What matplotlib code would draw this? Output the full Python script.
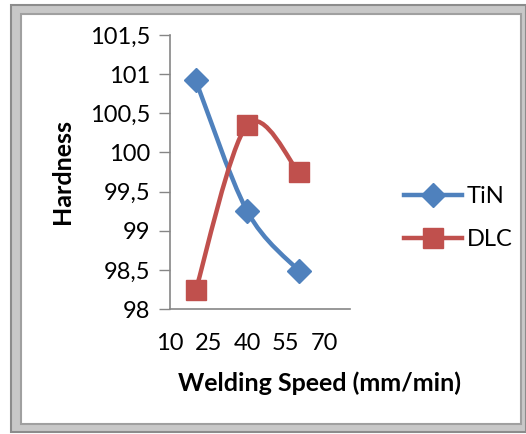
import matplotlib
matplotlib.use('Agg')
import matplotlib.pyplot as plt
from matplotlib.path import Path
from matplotlib.patches import PathPatch, Rectangle
from matplotlib.lines import Line2D
import numpy as np

# data
speed = [20, 40, 60]
tin = [100.92, 99.25, 98.49]
dlc = [98.24, 100.35, 99.75]
x_ticks = [10, 25, 40, 55, 70]
y_ticks = [98, 98.5, 99, 99.5, 100, 100.5, 101, 101.5]

blue = '#4F81BD'
red = '#C0504D'
font = 'Lato'
plt.rcParams['font.family'] = [font, 'DejaVu Sans']


def smooth_path(xs, ys):
    # excel-like smoothed line: bezier through points, tension 1/6
    pts = np.column_stack([xs, ys]).astype(float)
    n = len(pts)
    verts = [pts[0]]
    codes = [Path.MOVETO]
    for i in range(n - 1):
        p0 = pts[i - 1] if i > 0 else pts[i]
        p1 = pts[i]
        p2 = pts[i + 1]
        p3 = pts[i + 2] if i + 2 < n else pts[i + 1]
        c1 = p1 + (p2 - p0) / 6.0
        c2 = p2 - (p3 - p1) / 6.0
        verts += [c1, c2, p2]
        codes += [Path.CURVE4] * 3
    return Path(verts, codes)


fig = plt.figure(figsize=(5.26, 4.34), dpi=100)

# beveled gray frame around the chart
frame_outer = Rectangle((11 / 526, 1 - 432 / 434), 515 / 526, 427 / 434,
                        transform=fig.transFigure, facecolor='#c8c8c8',
                        edgecolor='#8c8c8c', lw=1.5, zorder=-10)
frame_inner = Rectangle((21 / 526, 1 - 424 / 434), 500 / 526, 410 / 434,
                        transform=fig.transFigure, facecolor='white',
                        edgecolor='#a0a0a0', lw=1.5, zorder=-9)
fig.patches.extend([frame_outer, frame_inner])

ax = fig.add_axes([170 / 526, 1 - 309 / 434, 180 / 526, 274 / 434])
ax.set_facecolor('none')

for ys, col, mk, ms in [(tin, blue, 'D', 12), (dlc, red, 's', 15)]:
    ax.add_patch(PathPatch(smooth_path(speed, ys), facecolor='none',
                           edgecolor=col, lw=3.2, capstyle='round', zorder=2))
    ax.plot(speed, ys, linestyle='none', marker=mk, markersize=ms,
            color=col, zorder=3, clip_on=False)

ax.set_xlim(10, 80)
ax.set_ylim(98, 101.5)
ax.set_xticks(x_ticks)
ax.set_yticks(y_ticks)
ax.set_yticklabels([('%g' % v).replace('.', ',') for v in y_ticks])
ax.tick_params(axis='x', length=0, pad=17, labelsize=17)
ax.tick_params(axis='y', length=8, width=1, color='#868686', pad=6,
               labelsize=17, direction='out')
for s in ['top', 'right']:
    ax.spines[s].set_visible(False)
for s in ['left', 'bottom']:
    ax.spines[s].set_color('#868686')
    ax.spines[s].set_linewidth(1.2)

fig.text(62 / 526, 1 - 172 / 434, 'Hardness', rotation=90, fontsize=18,
         fontweight='bold', ha='center', va='center')
fig.text(320 / 526, 1 - 383 / 434, 'Welding Speed (mm/min)', fontsize=18,
         fontweight='bold', ha='center', va='center')

handles = [Line2D([], [], color=blue, lw=3.2, marker='D', markersize=12),
           Line2D([], [], color=red, lw=3.2, marker='s', markersize=14)]
fig.legend(handles, ['TiN', 'DLC'], loc='center left',
           bbox_to_anchor=(404 / 526, 1 - 218 / 434), frameon=False,
           fontsize=17, handlelength=2.45, handletextpad=0.2,
           labelspacing=0.95, borderpad=0, borderaxespad=0)

fig.savefig('out.png', dpi=100)
